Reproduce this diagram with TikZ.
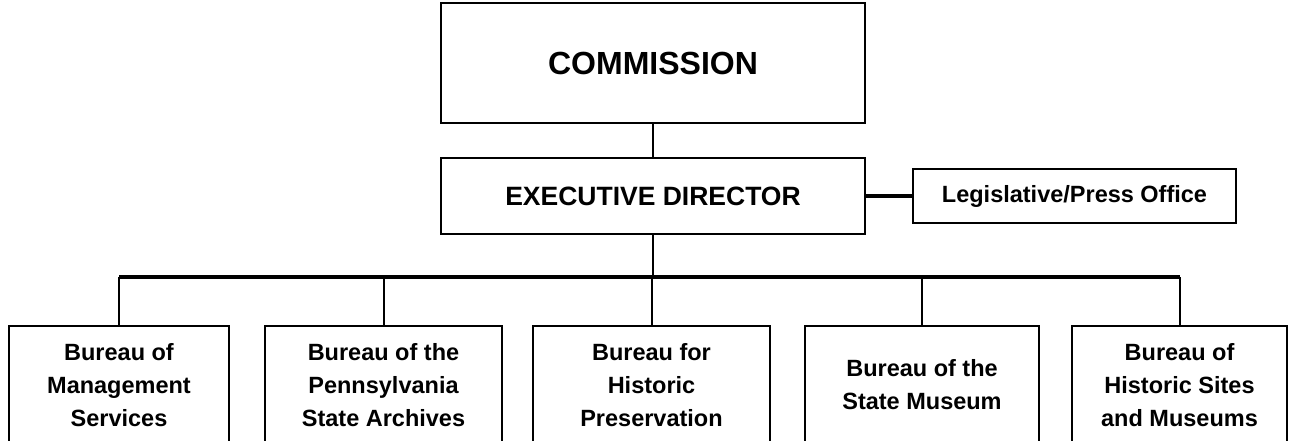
\documentclass[tikz,border=0pt]{standalone}
\usepackage{fontspec}
\setmainfont{Liberation Sans}
\usetikzlibrary{positioning}

\begin{document}
\begin{tikzpicture}[
    x=1pt, y=-1pt,
    unit/.style={draw, line width=1.8pt, align=center, inner sep=0pt, font=\fontsize{23.5}{33}\selectfont\bfseries},
    bureau/.style={unit, minimum height=118pt},
    link/.style={line width=2pt},
    bus/.style={line width=3.2pt}
]
    \useasboundingbox (0,0) rectangle (1290,440);
    \clip (0,0) rectangle (1290,440);

    \node[unit, minimum width=424pt, minimum height=120pt, font=\fontsize{32}{38}\selectfont\bfseries] (commission) at (653,63) {COMMISSION};
    \node[unit, minimum width=424pt, minimum height=76pt, font=\fontsize{26.5}{32}\selectfont\bfseries] (director) at (653,196) {EXECUTIVE DIRECTOR};
    \node[unit, minimum width=323pt, minimum height=54pt] (press) at (1074.5,196) {Legislative/Press Office};

    \node[bureau, minimum width=220pt] (mgmt)     at (119,385)   {Bureau of\\Management\\Services};
    \node[bureau, minimum width=237pt] (archives) at (383.5,385) {Bureau of the\\Pennsylvania\\State Archives};
    \node[bureau, minimum width=237pt] (preserve) at (651.5,385) {Bureau for\\Historic\\Preservation};
    \node[bureau, minimum width=234pt] (museum)   at (922,385)   {Bureau of the\\State Museum};
    \node[bureau, minimum width=215pt] (sites)    at (1179.5,385) {Bureau of\\Historic Sites\\and Museums};

    \coordinate (bus) at (0,277);

    \draw[link] (commission) -- (director);
    \draw[bus] (director) -- (press);
    \draw[link] (director.south) -- (director.south |- bus);
    \draw[bus] (mgmt.north |- bus) -- (sites.north |- bus);
    \foreach \b in {mgmt, archives, preserve, museum, sites}
        \draw[link] (\b.north |- bus) -- (\b.north);
\end{tikzpicture}
\end{document}
